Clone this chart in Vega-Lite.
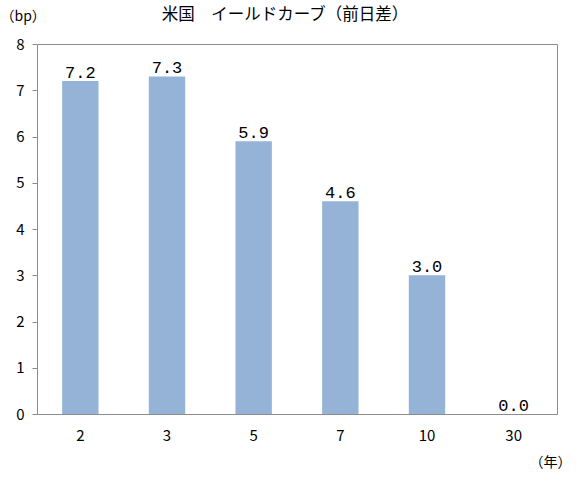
{
  "$schema": "https://vega.github.io/schema/vega-lite/v6.json",
  "width": 520,
  "height": 370,
  "autosize": {"type": "none"},
  "padding": {"left": 37, "top": 44, "right": 25, "bottom": 64},
  "background": "white",
  "config": {
    "view": {"stroke": "#8c8c8c", "strokeWidth": 1},
    "font": "Noto Sans CJK JP"
  },
  "title": {
    "text": "米国　イールドカーブ（前日差）",
    "fontSize": 16.5,
    "fontWeight": "normal",
    "color": "#000000",
    "anchor": "middle",
    "offset": -14,
    "dx": -12
  },
  "data": {
    "values": [
      {"maturity": "2", "change": 7.2},
      {"maturity": "3", "change": 7.3},
      {"maturity": "5", "change": 5.9},
      {"maturity": "7", "change": 4.6},
      {"maturity": "10", "change": 3.0},
      {"maturity": "30", "change": 0.0}
    ]
  },
  "encoding": {
    "x": {
      "field": "maturity",
      "type": "ordinal",
      "sort": null,
      "scale": {"paddingInner": 0.58, "paddingOuter": 0.29},
      "axis": {
        "title": "（年）",
        "titleFontSize": 14,
        "titleFontWeight": "normal",
        "titleX": 534,
        "titleY": 48,
        "titleAlign": "right",
        "titleBaseline": "middle",
        "labelAngle": 0,
        "labelFontSize": 15,
        "labelColor": "#000000",
        "labelPadding": 14,
        "ticks": false,
        "domain": false
      }
    },
    "y": {
      "field": "change",
      "type": "quantitative",
      "scale": {"domain": [0, 8]},
      "axis": {
        "title": "（bp）",
        "titleAngle": 0,
        "titleFontSize": 14,
        "titleFontWeight": "normal",
        "titleX": -37,
        "titleY": -28,
        "titleAlign": "left",
        "titleBaseline": "middle",
        "values": [0, 1, 2, 3, 4, 5, 6, 7, 8],
        "labelOverlap": false,
        "labelFontSize": 15,
        "labelColor": "#000000",
        "labelPadding": 8,
        "tickSize": 5,
        "tickColor": "#8c8c8c",
        "grid": false,
        "domain": false
      }
    }
  },
  "layer": [
    {
      "mark": {"type": "bar", "color": "#95b3d7"}
    },
    {
      "mark": {
        "type": "text",
        "baseline": "bottom",
        "font": "Liberation Mono",
        "fontSize": 17,
        "dy": 1,
        "color": "#000000"
      },
      "encoding": {
        "text": {"field": "change", "type": "quantitative", "format": ".1f"}
      }
    }
  ]
}
